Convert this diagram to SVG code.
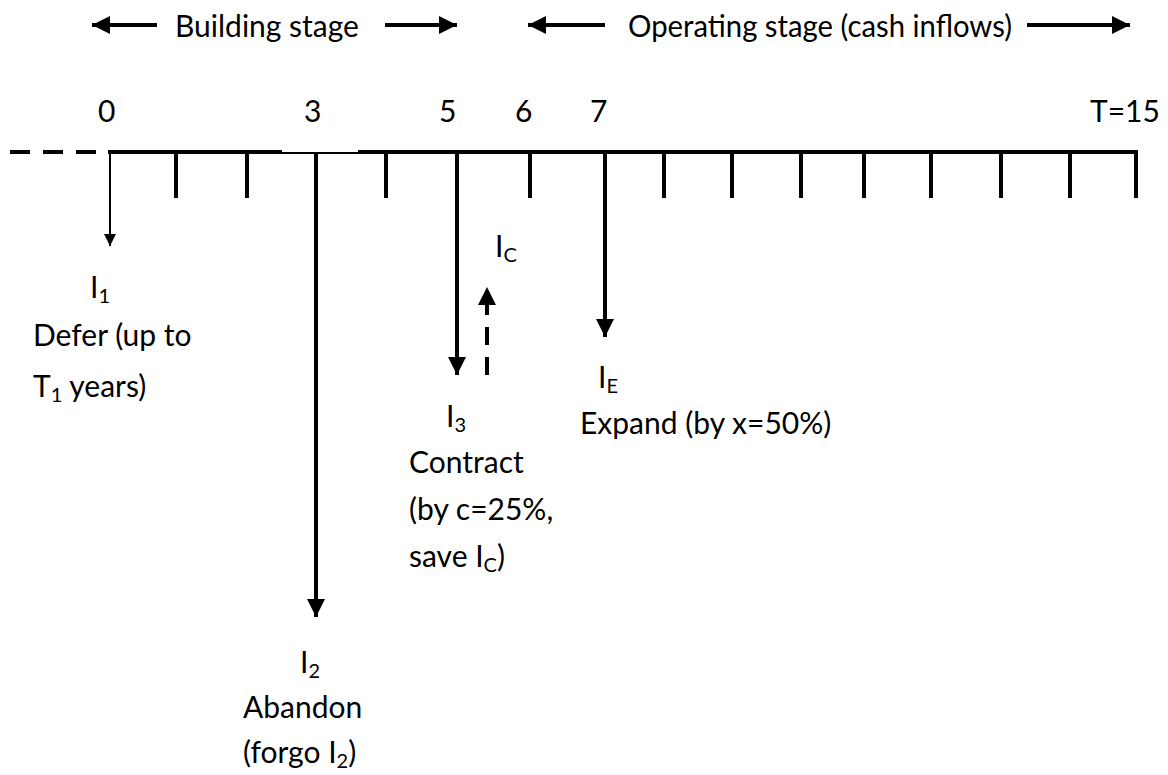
<svg xmlns="http://www.w3.org/2000/svg" width="1168" height="775" viewBox="0 0 1168 775">
  <style>
    text { font-family: "Lato", "Open Sans", "Liberation Sans", sans-serif; font-size: 30px; fill: #000; }
    .sub { font-size: 20px; }
    .axis { stroke: #000; stroke-width: 4; fill: none; }
    .tick { stroke: #000; stroke-width: 4; }
    .flow { stroke: #000; stroke-width: 4; fill: none; }
    .thin { stroke: #000; stroke-width: 2; fill: none; }
  </style>
  <defs>
    <marker id="head" viewBox="0 0 10 10" refX="10" refY="5" markerWidth="4.6" markerHeight="4.6" markerUnits="strokeWidth" orient="auto">
      <path d="M0,0 L10,5 L0,10 Z" fill="#000"/>
    </marker>
    <marker id="headThin" viewBox="0 0 10 10" refX="10" refY="5" markerWidth="6" markerHeight="6" markerUnits="strokeWidth" orient="auto">
      <path d="M0,0 L10,5 L0,10 Z" fill="#000"/>
    </marker>
  </defs>

  <!-- stage headers -->
  <g id="building-stage">
    <line class="flow" x1="157" y1="25" x2="92" y2="25" marker-end="url(#head)"/>
    <text x="175" y="37">Building stage</text>
    <line class="flow" x1="385" y1="25" x2="457" y2="25" marker-end="url(#head)"/>
  </g>
  <g id="operating-stage">
    <line class="flow" x1="605" y1="25" x2="528" y2="25" marker-end="url(#head)"/>
    <text x="628" y="37" textLength="384" lengthAdjust="spacingAndGlyphs">Operating stage (cash inflows)</text>
    <line class="flow" x1="1027" y1="25" x2="1130" y2="25" marker-end="url(#head)"/>
  </g>

  <!-- time axis -->
  <g id="timeline">
    <line class="axis" x1="10" y1="152" x2="96" y2="152" stroke-dasharray="20 13"/>
    <line class="axis" x1="108" y1="152" x2="282" y2="152"/>
    <line class="thin" x1="282" y1="153" x2="358" y2="153"/>
    <line class="axis" x1="358" y1="152" x2="1138" y2="152"/>
    <g id="ticks">
      <line class="tick" x1="176" y1="152" x2="176" y2="198"/>
      <line class="tick" x1="247" y1="152" x2="247" y2="198"/>
      <line class="tick" x1="386" y1="152" x2="386" y2="198"/>
      <line class="tick" x1="530" y1="152" x2="530" y2="198"/>
      <line class="tick" x1="664" y1="152" x2="664" y2="198"/>
      <line class="tick" x1="732" y1="152" x2="732" y2="198"/>
      <line class="tick" x1="801" y1="152" x2="801" y2="198"/>
      <line class="tick" x1="864" y1="152" x2="864" y2="198"/>
      <line class="tick" x1="931" y1="152" x2="931" y2="198"/>
      <line class="tick" x1="1001" y1="152" x2="1001" y2="198"/>
      <line class="tick" x1="1070" y1="152" x2="1070" y2="198"/>
      <line class="tick" x1="1136" y1="150" x2="1136" y2="198"/>
    </g>
    <g id="year-labels">
      <text x="98" y="122">0</text>
      <text x="304" y="122">3</text>
      <text x="439" y="122">5</text>
      <text x="515" y="122">6</text>
      <text x="590" y="122">7</text>
      <text x="1090" y="122">T=15</text>
    </g>
  </g>

  <!-- cash-flow arrows -->
  <g id="connectors">
    <line class="thin" x1="110" y1="151" x2="110" y2="246" marker-end="url(#headThin)"/>
    <line class="flow" x1="316" y1="154" x2="316" y2="617" marker-end="url(#head)"/>
    <line class="flow" x1="457" y1="154" x2="457" y2="375" marker-end="url(#head)"/>
    <line class="flow" x1="487" y1="375" x2="487" y2="287" stroke-dasharray="18 12" marker-end="url(#head)"/>
    <line class="flow" x1="605" y1="154" x2="605" y2="337" marker-end="url(#head)"/>
  </g>

  <!-- option labels -->
  <g id="defer">
    <text x="90" y="298">I<tspan class="sub" dy="5">1</tspan></text>
    <text x="33" y="346">Defer (up to</text>
    <text x="33" y="397">T<tspan class="sub" dy="5">1</tspan><tspan dy="-5"> years)</tspan></text>
  </g>
  <g id="abandon">
    <text x="300" y="673">I<tspan class="sub" dy="5">2</tspan></text>
    <text x="243" y="718">Abandon</text>
    <text x="243" y="763">(forgo I<tspan class="sub" dy="5">2</tspan><tspan dy="-5">)</tspan></text>
  </g>
  <g id="contract">
    <text x="446" y="427">I<tspan class="sub" dy="5">3</tspan></text>
    <text x="409" y="473">Contract</text>
    <text x="409" y="520">(by c=25%,</text>
    <text x="409" y="567">save I<tspan class="sub" dy="5">C</tspan><tspan dy="-5">)</tspan></text>
  </g>
  <g id="saving">
    <text x="495" y="257">I<tspan class="sub" dy="5">C</tspan></text>
  </g>
  <g id="expand">
    <text x="598" y="388">I<tspan class="sub" dy="5">E</tspan></text>
    <text x="580" y="434">Expand (by x=50%)</text>
  </g>
</svg>
